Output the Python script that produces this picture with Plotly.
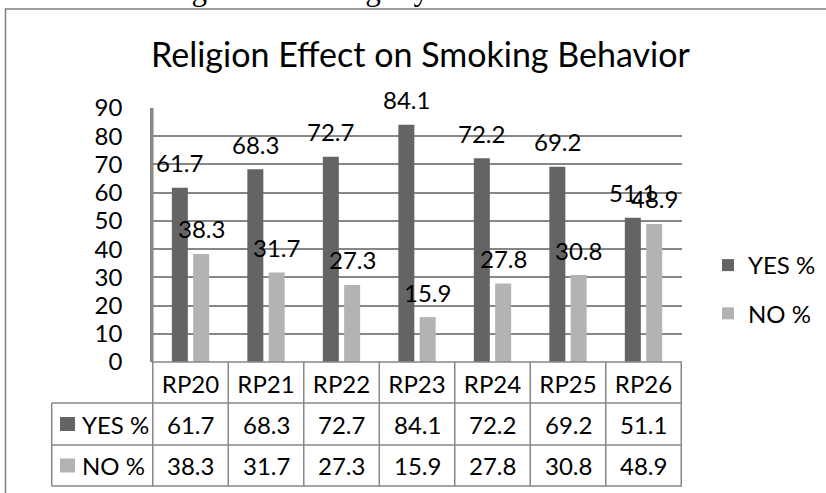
import plotly.graph_objects as go

categories = ["RP20", "RP21", "RP22", "RP23", "RP24", "RP25", "RP26"]
yes_pct = [61.7, 68.3, 72.7, 84.1, 72.2, 69.2, 51.1]
no_pct = [38.3, 31.7, 27.3, 15.9, 27.8, 30.8, 48.9]
series_names = ["YES %", "NO %"]
y_ticks = [0, 10, 20, 30, 40, 50, 60, 70, 80, 90]

W, H = 826, 493
L, R, T, B = 152, 682, 108, 362  # plot area in pixels
DARK = "#646464"
LIGHT = "#b3b3b3"
LINE = "#878787"
FONT = "Lato, Arial, sans-serif"


def px_x(p):
    return (p - L) / (R - L)


def px_y(p):
    return (B - p) / (B - T)


fig = go.Figure()
for name, vals, col in [(series_names[0], yes_pct, DARK), (series_names[1], no_pct, LIGHT)]:
    fig.add_trace(go.Bar(x=categories, y=vals, name=name, marker_color=col,
                         marker_line_width=0, legendgroup=name))

shapes = []
annotations = []

# value labels above bars
for vals, shift in [(yes_pct, -10.7), (no_pct, 10.7)]:
    for c, v in zip(categories, vals):
        annotations.append(dict(x=c, y=v, xref="x", yref="y", text=f"{v}", showarrow=False,
                                xanchor="center", yanchor="middle",
                                xshift=shift, yshift=25, font=dict(size=24, color="black")))

# data table below the chart
row_tops = [B, 403, 445, 486]
for p in row_tops:
    x0 = L if p == B else 51.7
    shapes.append(dict(type="line", xref="paper", yref="paper", x0=px_x(x0), x1=1,
                       y0=px_y(p), y1=px_y(p), line=dict(color=LINE, width=1.5)))
for i in range(len(categories) + 1):
    shapes.append(dict(type="line", xref="x", yref="paper", x0=i - 0.5, x1=i - 0.5,
                       y0=px_y(486), y1=px_y(B) if i else 1,
                       line=dict(color=LINE, width=1.5)))
shapes.append(dict(type="line", xref="paper", yref="paper", x0=px_x(51.7), x1=px_x(51.7),
                   y0=px_y(486), y1=px_y(403), line=dict(color=LINE, width=1.5)))

for row, (name, vals, col) in enumerate([(series_names[0], yes_pct, DARK),
                                          (series_names[1], no_pct, LIGHT)]):
    yc = [424, 465.5][row]
    for c, v in zip(categories, vals):
        annotations.append(dict(x=c, y=px_y(yc), xref="x", yref="paper", text=f"{v}",
                                xanchor="center", yanchor="middle",
                                showarrow=False, font=dict(size=24, color="black")))
    shapes.append(dict(type="rect", xref="paper", yref="paper", x0=px_x(60), x1=px_x(75),
                       y0=px_y(yc + 7), y1=px_y(yc - 7), fillcolor=col, line_width=0))
    annotations.append(dict(x=px_x(80), y=px_y(yc), xref="paper", yref="paper", text=name,
                            xanchor="left", yanchor="middle", showarrow=False,
                            font=dict(size=24, color="black")))

# outer chart frame
shapes.append(dict(type="rect", xref="paper", yref="paper", x0=px_x(5.5), x1=px_x(860),
                   y0=px_y(530), y1=px_y(9), line=dict(color="#7f7f7f", width=1.5), layer="below"))

# title and cut-off document text above the chart
annotations.append(dict(x=px_x(420), y=px_y(54), xref="paper", yref="paper",
                        xanchor="center", yanchor="middle",
                        text="Religion Effect on Smoking Behavior", showarrow=False,
                        font=dict(size=34, color="black")))
annotations.append(dict(x=px_x(-6), y=px_y(-10), xref="paper", yref="paper", xanchor="left",
                        yanchor="middle", text="e who takes religious duties lightly .",
                        showarrow=False, font=dict(size=31, color="black",
                                                   family="Liberation Serif, serif")))

fig.update_layout(
    width=W, height=H,
    margin=dict(l=L, r=W - R, t=T, b=H - B, pad=0, autoexpand=False),
    paper_bgcolor="white", plot_bgcolor="white",
    font=dict(family=FONT, color="black", size=24),
    barmode="group", bargap=0.435, bargroupgap=0.25,
    showlegend=True,
    legend=dict(x=px_x(708), y=px_y(243), xanchor="left", yanchor="top",
                traceorder="grouped", tracegroupgap=14, font=dict(size=24),
                bgcolor="rgba(0,0,0,0)"),
    shapes=shapes, annotations=annotations,
)
fig.update_yaxes(range=[0, 90], tickvals=y_ticks, showgrid=True, gridcolor=LINE, gridwidth=1.5,
                 zeroline=False, showline=True, linecolor=LINE, linewidth=1.5,
                 ticks="", ticklabelstandoff=23, tickfont=dict(size=24), automargin=False)
fig.update_xaxes(showgrid=False, showline=False, ticks="", tickfont=dict(size=24),
                 ticklabelstandoff=6, automargin=False)

# drop the default page margin so the figure sits at the window's top-left corner
fig.write_html("out.html", config={"displayModeBar": False},
               post_script="document.body.style.margin = '0';")
